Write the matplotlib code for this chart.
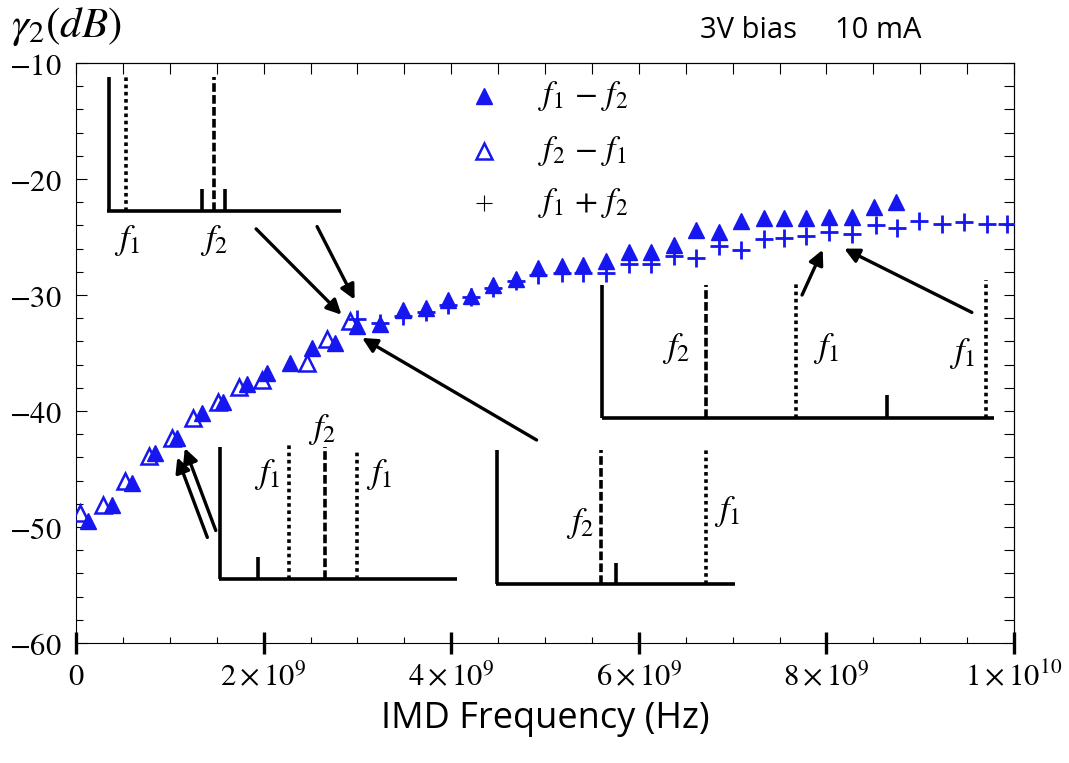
import numpy as np
import matplotlib.pyplot as plt

plt.rcParams['mathtext.fontset'] = 'stix'
plt.rcParams['font.family'] = ['DejaVu Serif']

# measured data (frequency in GHz, gamma_2 in dB)
f_diff12 = [0.13, 0.38, 0.60, 0.84, 1.08, 1.34, 1.57, 1.82, 2.04, 2.28, 2.52, 2.76,
            3.00, 3.24, 3.49, 3.73, 3.97, 4.21, 4.45, 4.69, 4.93, 5.18, 5.41, 5.65,
            5.90, 6.13, 6.37, 6.61, 6.85, 7.09, 7.33, 7.55, 7.78, 8.03, 8.27, 8.51, 8.74]
g_diff12 = [-49.5, -48.1, -46.2, -43.6, -42.3, -40.2, -39.2, -37.7, -36.7, -35.9, -34.6, -34.1,
            -32.7, -32.5, -31.3, -31.1, -30.4, -30.1, -29.1, -28.6, -27.7, -27.5, -27.4, -27.1,
            -26.3, -26.3, -25.7, -24.4, -24.6, -23.6, -23.4, -23.4, -23.4, -23.3, -23.3, -22.4, -22.0]

f_diff21 = [0.04, 0.29, 0.52, 0.78, 1.02, 1.25, 1.51, 1.74, 1.98, 2.46, 2.68, 2.92]
g_diff21 = [-48.8, -48.1, -46.0, -43.9, -42.3, -40.6, -39.2, -37.9, -37.3, -35.9, -33.8, -32.2]

f_sum = [3.00, 3.24, 3.49, 3.73, 3.97, 4.21, 4.45, 4.69, 4.93, 5.18, 5.41, 5.65, 5.90, 6.13, 6.37,
         6.61, 6.85, 7.09, 7.33, 7.55, 7.78, 8.03, 8.27, 8.53, 8.75, 8.99, 9.23, 9.47, 9.71, 9.93]
g_sum = [-32.1, -32.4, -31.8, -31.5, -30.9, -30.2, -29.4, -28.8, -28.3, -28.1, -28.1, -28.1, -27.3, -27.3, -26.6,
         -26.8, -25.8, -26.1, -25.2, -25.1, -24.9, -24.6, -24.7, -24.0, -24.2, -23.6, -23.9, -23.7, -23.9, -23.9]

xticks = [0, 2e9, 4e9, 6e9, 8e9, 1e10]
xticklabels = ['$0$', r'$2\times10^{9}$', r'$4\times10^{9}$', r'$6\times10^{9}$',
               r'$8\times10^{9}$', r'$1\times10^{10}$']
yticks = [-60, -50, -40, -30, -20, -10]
yticklabels = [r'$-60$', r'$-50$', r'$-40$', r'$-30$', r'$-20$', r'$-10$']

blue = '#1616f0'
G = 1e9

fig = plt.figure(figsize=(10.69, 7.63), dpi=100)
ax = fig.add_axes([0.0711, 0.1573, 0.8775, 0.7601])

ax.plot(np.array(f_diff12) * G, g_diff12, '^', ms=12, color=blue, mec=blue, ls='none', zorder=4)
ax.plot(np.array(f_diff21) * G, g_diff21, '^', ms=11, mfc='none', mec=blue, mew=1.8, ls='none', zorder=3)
ax.plot(np.array(f_sum) * G, g_sum, '+', ms=13, mew=2, color=blue, ls='none', zorder=5)

ax.set_xlim(0, 1e10)
ax.set_ylim(-60, -10)

# ticks
ax.set_xticks(xticks)
ax.set_xticklabels(xticklabels, fontsize=22)
ax.set_xticks(np.arange(0, 1e10, 0.5e9), minor=True)
ax.set_yticks(yticks)
ax.set_yticklabels(yticklabels, fontsize=22)
ax.set_yticks(np.arange(-60, -10, 2), minor=True)
ax.tick_params(axis='x', which='major', direction='inout', length=16, width=2.4, pad=5)
ax.tick_params(axis='x', which='minor', direction='in', length=4.5, width=0.8)
ax.tick_params(axis='y', which='major', direction='in', length=8, width=0.8, pad=10)
ax.tick_params(axis='y', which='minor', direction='in', length=5, width=0.8)

top = ax.secondary_xaxis('top')
top.set_xticks(np.arange(0, 1e10 + 1, 0.5e9))
top.set_xticklabels([])
top.tick_params(direction='in', length=8, width=0.8)
right = ax.secondary_yaxis('right')
right.set_yticks(np.arange(-60, -9, 2))
right.set_yticklabels([])
right.tick_params(direction='in', length=7, width=0.8)
for s in ax.spines.values():
    s.set_linewidth(0.8)

# legend
leg_x = 0.4345
ax.plot([leg_x], [0.944], '^', ms=12, color=blue, transform=ax.transAxes)
ax.plot([leg_x], [0.849], '^', ms=11, mfc='none', mec=blue, mew=1.8, transform=ax.transAxes)
ax.plot([leg_x], [0.758], '+', ms=11, mew=0.8, color='black', transform=ax.transAxes)
ax.text(0.4925, 0.944, r'$f_1\,-\,f_2$', fontsize=24, va='center', transform=ax.transAxes)
ax.text(0.4925, 0.849, r'$f_2\,-\,f_1$', fontsize=24, va='center', transform=ax.transAxes)
ax.text(0.4925, 0.758, r'$f_1\,+\,f_2$', fontsize=24, va='center', transform=ax.transAxes)

# spectrum sketches
lw = 2.6
dash = (0, (2.4, 0.9))
dot = (0, (1.0, 1.0))


def vline(x, y0, y1, ls='-', w=lw):
    ax.plot([x * G, x * G], [y0, y1], color='black', lw=w, ls=ls, solid_capstyle='butt')


def base(x0, x1, y):
    ax.plot([x0 * G, x1 * G], [y, y], color='black', lw=lw, solid_capstyle='butt')


def flab(x, y, s):
    ax.text(x * G, y, s, fontsize=25, ha='center', va='center')


# inset 1
base(0.33, 2.82, -22.8)
vline(0.35, -22.8, -11.2)
vline(0.53, -22.8, -11.2, dot)
vline(1.47, -22.8, -11.2, dash)
vline(1.34, -22.8, -20.9)
vline(1.59, -22.8, -20.9)
flab(0.55, -25.3, r'$f_1$')
flab(1.47, -25.3, r'$f_2$')

# inset 2
base(1.52, 4.06, -54.5)
vline(1.53, -54.5, -43.1)
vline(2.27, -54.5, -42.8, dot)
vline(2.65, -54.5, -43.1, dash)
vline(3.00, -54.5, -43.4, dot)
vline(1.94, -54.5, -52.6)
flab(2.04, -45.5, r'$f_1$')
flab(2.62, -41.6, r'$f_2$')
flab(3.23, -45.5, r'$f_1$')

# inset 3
base(4.48, 7.02, -54.9)
vline(4.49, -54.9, -43.4)
vline(5.60, -54.9, -43.4, dash)
vline(5.76, -54.9, -53.1)
vline(6.72, -54.9, -43.4, dot)
flab(5.37, -49.7, r'$f_2$')
flab(6.94, -48.7, r'$f_1$')

# inset 4
base(5.61, 9.79, -40.6)
vline(5.61, -40.6, -29.1)
vline(6.72, -40.6, -29.1, dash)
vline(7.68, -40.6, -29.0, dot)
vline(8.65, -40.6, -38.6)
vline(9.70, -40.6, -28.7, dot)
flab(6.40, -34.6, r'$f_2$')
flab(8.00, -34.6, r'$f_1$')
flab(9.45, -35.0, r'$f_1$')

# arrows (start, tip)
arrows = [((1.92, -24.3), (2.83, -31.7)),
          ((2.57, -24.1), (2.97, -30.4)),
          ((4.91, -42.5), (3.05, -33.7)),
          ((1.40, -50.9), (1.08, -44.0)),
          ((1.49, -50.3), (1.16, -43.2)),
          ((7.74, -30.0), (7.96, -26.1)),
          ((9.55, -31.5), (8.19, -26.0))]
for (x0, y0), (x1, y1) in arrows:
    ax.annotate('', xy=(x1 * G, y1), xytext=(x0 * G, y0),
                arrowprops=dict(arrowstyle='-|>', lw=2.4, color='black', mutation_scale=22,
                                shrinkA=0, shrinkB=0))

fig.text(0.01, 0.965, r'$\gamma_2(dB)$', fontsize=31, va='center', ha='left')
fig.text(0.655, 0.960, '3V bias', fontsize=21, va='center', ha='left', family='Open Sans')
fig.text(0.781, 0.960, '10 mA', fontsize=21, va='center', ha='left', family='Open Sans')
fig.text(0.51, 0.058, 'IMD Frequency (Hz)', fontsize=26, va='center', ha='center', family='Open Sans')

fig.savefig('out.png', dpi=100)
